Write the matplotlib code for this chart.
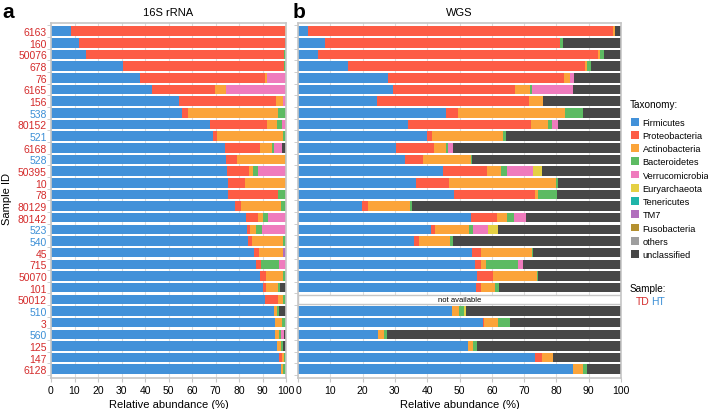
import matplotlib
matplotlib.use('Agg')
import matplotlib.pyplot as plt
import numpy as np
from matplotlib.patches import Patch

plt.rcParams['font.family'] = ['Liberation Sans', 'DejaVu Sans']

# sample order (top to bottom) and group
samples = ['6163', '160', '50076', '678', '76', '6165', '156', '538', '80152', '521',
           '6168', '528', '50395', '10', '78', '80129', '80142', '523', '540', '45',
           '715', '50070', '101', '50012', '510', '3', '560', '125', '147', '6128']
groups = ['TD', 'TD', 'TD', 'TD', 'TD', 'TD', 'TD', 'HT', 'TD', 'HT',
          'TD', 'HT', 'TD', 'TD', 'TD', 'TD', 'TD', 'HT', 'HT', 'TD',
          'TD', 'TD', 'TD', 'TD', 'HT', 'TD', 'HT', 'TD', 'TD', 'TD']

taxa = ['Firmicutes', 'Proteobacteria', 'Actinobacteria', 'Bacteroidetes',
        'Verrucomicrobia', 'Euryarchaeota', 'Tenericutes', 'TM7',
        'Fusobacteria', 'others', 'unclassified']
taxa_colors = ['#4291d9', '#fd5c45', '#fba43a', '#5dbb63', '#ef7bbd', '#e5d043',
               '#1fb5a9', '#b16fbd', '#b4902f', '#9e9e9e', '#474747']

# 16S rRNA relative abundance (%)
s16_firmicutes = [8.4, 11.9, 14.9, 30.8, 37.9, 43.0, 54.6, 55.7, 67.8, 68.8,
                  74.2, 74.3, 74.8, 75.2, 75.2, 78.3, 82.8, 83.3, 84.0, 86.3,
                  87.2, 88.9, 90.4, 91.1, 94.9, 95.3, 95.3, 96.2, 97.0, 97.7]
s16_proteo = [91.0, 87.6, 84.3, 68.5, 53.2, 26.8, 41.1, 2.5, 24.0, 1.7,
              14.7, 5.0, 9.6, 7.4, 21.3, 2.4, 5.4, 1.4, 1.4, 2.2,
              2.2, 2.6, 1.1, 5.4, 0, 0, 0, 0, 1.4, 0]
s16_actino = [0.6, 0, 0, 0, 0.7, 4.5, 3.2, 38.3, 4.5, 28.4,
              5.0, 20.2, 1.7, 17.4, 0, 17.2, 2.2, 2.5, 13.5, 10.4,
              0, 7.4, 5.0, 2.1, 1.1, 3.0, 1.7, 1.5, 0.8, 1.2]
s16_bactero = [0, 0, 0.8, 0.7, 0, 0, 0, 3.5, 1.8, 1.1,
               1.0, 0.5, 1.8, 0, 3.5, 2.1, 1.8, 2.6, 1.1, 0,
               7.5, 1.1, 0.9, 1.4, 1.2, 1.7, 0.7, 1.0, 0.8, 1.1]
s16_verruco = [0, 0, 0, 0, 8.2, 25.7, 1.1, 0, 1.9, 0,
               3.5, 0, 12.1, 0, 0, 0, 7.8, 10.2, 0, 0,
               3.1, 0, 0, 0, 0, 0, 1.4, 0, 0, 0]
s16_eury = [0] * 30
s16_teneri = [0] * 30
s16_tm7 = [0, 0, 0, 0, 0, 0, 0, 0, 0, 0,
           0, 0, 0, 0, 0, 0, 0, 0, 0, 1.1,
           0, 0, 0, 0, 0, 0, 0, 0, 0, 0]
s16_fuso = [0] * 30
s16_others = [0] * 30
s16_unclass = [0, 0.5, 0, 0, 0, 0, 0, 0, 0, 0,
               1.6, 0, 0, 0, 0, 0, 0, 0, 0, 0,
               0, 0, 2.6, 0, 2.8, 0, 0.9, 1.3, 0, 0]

# WGS relative abundance (%), sample 50012 not available
wgs_missing = ['50012']
wgs_firmicutes = [3.2, 8.4, 6.3, 15.4, 28.0, 29.5, 24.4, 45.8, 34.0, 39.8,
                  30.2, 33.1, 45.0, 36.5, 48.3, 19.7, 53.6, 41.1, 35.9, 53.8,
                  54.8, 55.3, 55.0, 0, 47.8, 57.2, 24.9, 52.7, 73.4, 85.0]
wgs_proteo = [94.4, 72.7, 86.5, 73.5, 54.5, 37.7, 47.1, 3.6, 38.1, 1.8,
              11.9, 5.5, 13.4, 10.2, 25.1, 2.1, 7.9, 1.3, 1.6, 2.8,
              1.8, 5.2, 1.6, 0, 0, 0.5, 0, 0, 2.2, 0]
wgs_actino = [0.6, 0, 0.7, 0.6, 1.7, 4.6, 4.3, 33.3, 5.2, 22.0,
              3.6, 15.0, 4.4, 33.1, 1.0, 12.9, 3.1, 10.6, 9.6, 15.8,
              1.5, 13.4, 4.4, 0, 2.1, 4.3, 1.7, 1.4, 3.4, 3.3]
wgs_bactero = [0, 1.0, 1.2, 1.2, 0, 0.7, 0, 5.6, 1.2, 0.8,
               0.6, 0.4, 1.8, 0.6, 5.7, 0.7, 2.3, 1.3, 0.8, 0.3,
               10.1, 0.5, 1.2, 0, 1.5, 3.6, 1.1, 1.2, 0, 1.1]
wgs_verruco = [0, 0, 0, 0, 1.2, 12.5, 0, 0, 1.9, 0,
               1.8, 0, 8.1, 0, 0, 0, 3.7, 4.6, 0, 0,
               1.6, 0, 0, 0, 0, 0, 0, 0, 0, 0]
wgs_eury = [0, 0, 0, 0, 0, 0, 0, 0, 0, 0,
            0, 0, 2.7, 0, 0, 0, 0, 3.1, 0, 0,
            0, 0, 0, 0, 0.6, 0, 0, 0, 0, 0]
wgs_teneri = [0] * 30
wgs_tm7 = [0] * 30
wgs_fuso = [0] * 30
wgs_others = [0] * 30
wgs_unclass = [1.8, 17.9, 5.3, 9.3, 14.6, 15.0, 24.2, 11.7, 19.6, 35.6,
               51.9, 46.0, 24.6, 19.6, 19.9, 64.6, 29.4, 38.0, 52.1, 27.3,
               30.2, 25.6, 37.8, 0, 48.0, 34.4, 72.3, 44.7, 21.0, 10.6]

s16_data = [s16_firmicutes, s16_proteo, s16_actino, s16_bactero, s16_verruco,
            s16_eury, s16_teneri, s16_tm7, s16_fuso, s16_others, s16_unclass]
wgs_data = [wgs_firmicutes, wgs_proteo, wgs_actino, wgs_bactero, wgs_verruco,
            wgs_eury, wgs_teneri, wgs_tm7, wgs_fuso, wgs_others, wgs_unclass]

group_colors = {'TD': '#d42a2a', 'HT': '#3b8fd6'}
frame_col = '#c6c6c6'
bar_h = 0.82


def draw_panel(ax, data, title, missing=()):
    y = np.arange(len(samples))
    left = np.zeros(len(samples))
    for vals, name, col in zip(data, taxa, taxa_colors):
        vals = np.array(vals, dtype=float)
        ax.barh(y, vals, left=left, height=bar_h, color=col, label=name,
                linewidth=0, zorder=2)
        left += vals
    for s in missing:
        i = samples.index(s)
        ax.barh(i, 100, height=bar_h, color='white', edgecolor=frame_col,
                linewidth=1.0, zorder=2)
        ax.text(50, i, 'not available', ha='center', va='center',
                fontsize=5.5, zorder=3)
    ax.set_xlim(0, 100)
    ax.set_ylim(len(samples) - 0.25, -0.7)
    ax.set_xticks(np.arange(0, 101, 10))
    ax.set_yticks(y)
    ax.set_yticks(np.arange(len(samples) + 1) - 0.5, minor=True)
    ax.tick_params(axis='x', labelsize=7.5, length=3, color=frame_col, pad=2)
    ax.tick_params(axis='y', which='major', length=0, pad=3)
    ax.tick_params(axis='y', which='minor', length=3, color=frame_col)
    ax.set_axisbelow(True)
    ax.xaxis.grid(True, color='#dcdcdc', linewidth=0.8, zorder=0)
    for sp in ax.spines.values():
        sp.set_color(frame_col)
        sp.set_linewidth(1.2)
    ax.set_title(title, fontsize=8, pad=6)
    ax.set_xlabel('Relative abundance (%)', fontsize=8, labelpad=3)


fig = plt.figure(figsize=(7.08, 4.10), dpi=100)
ax1 = fig.add_axes([51 / 708, 1 - 379 / 410, 235 / 708, 355 / 410])
ax2 = fig.add_axes([298 / 708, 1 - 379 / 410, 323 / 708, 355 / 410])

draw_panel(ax1, s16_data, '16S rRNA')
ax1.set_yticklabels(samples, fontsize=7.5)
for lab, g in zip(ax1.get_yticklabels(), groups):
    lab.set_color(group_colors[g])

draw_panel(ax2, wgs_data, 'WGS', missing=wgs_missing)
ax2.set_yticklabels([])

fig.text(7 / 708, 1 - 199 / 410, 'Sample ID', rotation=90, ha='center',
         va='center', fontsize=8)
fig.text(2 / 708, 1 - 12 / 410, 'a', fontsize=15, fontweight='bold', va='center')
fig.text(293 / 708, 1 - 12 / 410, 'b', fontsize=15, fontweight='bold', va='center')

fig.text(630 / 708, 1 - 105 / 410, 'Taxonomy:', fontsize=7.2, va='center')
handles = [Patch(facecolor=c, edgecolor='none') for c in taxa_colors]
leg = fig.legend(handles, taxa, loc='upper left',
                 bbox_to_anchor=(627 / 708, 1 - 115 / 410), frameon=False,
                 fontsize=6.6, handlelength=0.95, handleheight=0.95,
                 handletextpad=0.35, labelspacing=0.45, borderaxespad=0)

fig.text(630 / 708, 1 - 289 / 410, 'Sample:', fontsize=7.2, va='center')
fig.text(636 / 708, 1 - 302 / 410, 'TD', fontsize=7.5, va='center',
         color=group_colors['TD'])
fig.text(651 / 708, 1 - 302 / 410, 'HT', fontsize=7.5, va='center',
         color=group_colors['HT'])

fig.savefig('out.png', dpi=100)
